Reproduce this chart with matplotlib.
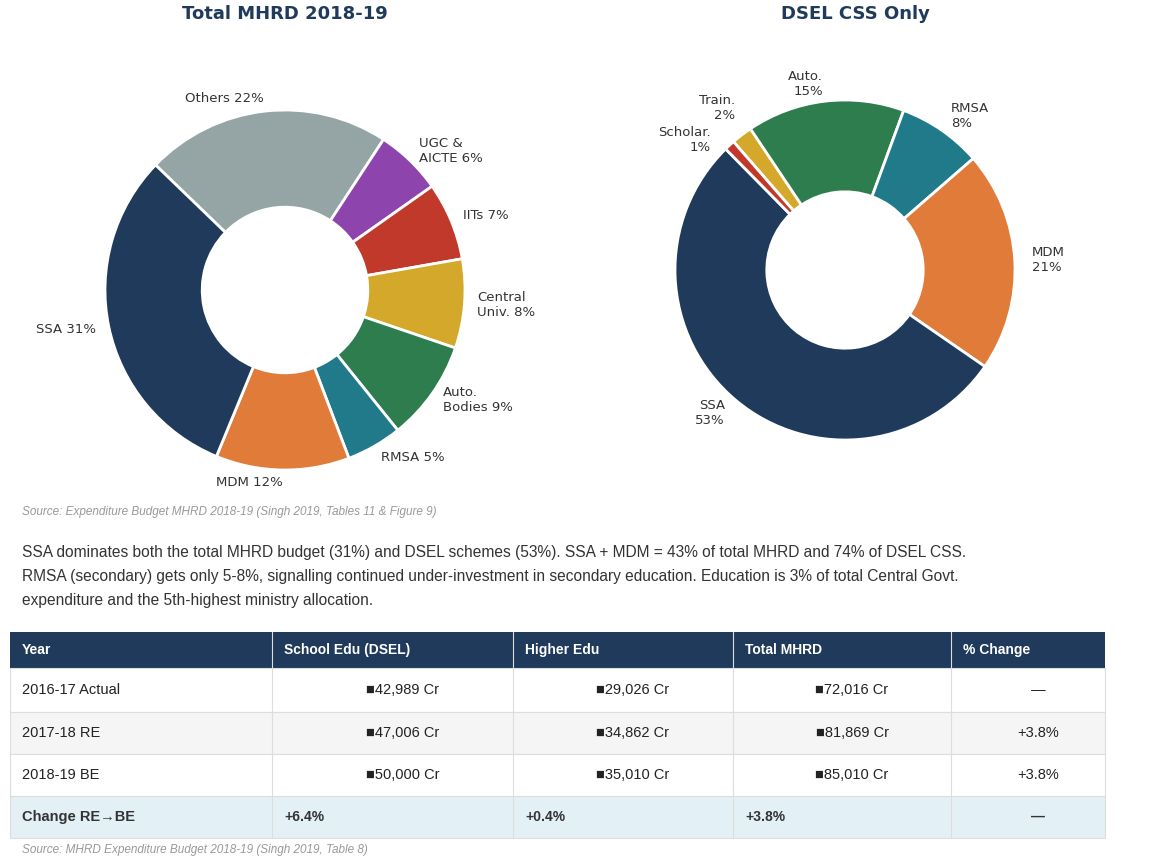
import matplotlib
matplotlib.use("Agg")
import matplotlib.pyplot as plt
from matplotlib.patches import Rectangle

W, H = 1153, 861
# ---- data ----
mhrd_labels = ["Others 22%", "UGC &\nAICTE 6%", "IITs 7%", "Central\nUniv. 8%", "Auto.\nBodies 9%",
               "RMSA 5%", "MDM 12%", "SSA 31%"]
mhrd_values = [22, 6, 7, 8, 9, 5, 12, 31]
mhrd_colors = ["#95a5a6", "#8e44ad", "#c0392b", "#d4a82a", "#2e7d4f", "#217a8a", "#e07b39", "#1f3a5a"]

dsel_labels = ["Train.\n2%", "Auto.\n15%", "RMSA\n8%", "MDM\n21%", "SSA\n53%", "Scholar.\n1%"]
dsel_values = [2, 15, 8, 21, 53, 1]
dsel_colors = ["#d4a82a", "#2e7d4f", "#217a8a", "#e07b39", "#1f3a5a", "#c0392b"]

col_headers = ["Year", "School Edu (DSEL)", "Higher Edu", "Total MHRD", "% Change"]
years = ["2016-17 Actual", "2017-18 RE", "2018-19 BE"]
school = ["■42,989 Cr", "■47,006 Cr", "■50,000 Cr"]
higher = ["■29,026 Cr", "■34,862 Cr", "■35,010 Cr"]
total = ["■72,016 Cr", "■81,869 Cr", "■85,010 Cr"]
pct = ["—", "+3.8%", "+3.8%"]
change_row = ["Change RE→BE", "+6.4%", "+0.4%", "+3.8%", "—"]

fig = plt.figure(figsize=(W/100, H/100), dpi=100)

def donut(rect, vals, labels, colors, start, ldist):
    ax = fig.add_axes(rect)
    wedges, texts = ax.pie(vals, labels=labels, colors=colors, startangle=start, counterclock=False,
                           labeldistance=ldist, wedgeprops=dict(width=0.54, edgecolor="white", linewidth=2),
                           textprops=dict(fontsize=9.5, color="#333333", family="DejaVu Sans"))
    for t in texts:
        t.set_clip_on(False)
    ax.set_xlim(-1, 1); ax.set_ylim(-1, 1); ax.set_aspect("equal")
    ax.axis("off")
    return ax, texts

donut([105/W, (H-470)/H, 360/W, 360/H], mhrd_values, mhrd_labels, mhrd_colors, 136, 1.07)
axr, rt = donut([675/W, (H-440)/H, 340/W, 340/H], dsel_values, dsel_labels, dsel_colors, 131, 1.1)
# nudge the two tiny slice labels apart
x, y = rt[0].get_position(); rt[0].set_position((x + 0.02, y + 0.08))
x, y = rt[5].get_position(); rt[5].set_position((x - 0.04, y - 0.04))

fig.text(285/W, 1-14/H, "Total MHRD 2018-19", ha="center", va="center", fontsize=13, fontweight="bold", color="#1f3a5a")
fig.text(855/W, 1-14/H, "DSEL CSS Only", ha="center", va="center", fontsize=13, fontweight="bold", color="#1f3a5a")

# text / table layer in pixel coords
ax = fig.add_axes([0, 0, 1, 1], zorder=-1)
ax.set_xlim(0, W); ax.set_ylim(H, 0); ax.axis("off")
ff = "Liberation Sans"
ax.text(22, 512, "Source: Expenditure Budget MHRD 2018-19 (Singh 2019, Tables 11 & Figure 9)", fontsize=8.5,
        style="italic", color="#999999", va="center", family=ff)
para = ["SSA dominates both the total MHRD budget (31%) and DSEL schemes (53%). SSA + MDM = 43% of total MHRD and 74% of DSEL CSS.",
        "RMSA (secondary) gets only 5-8%, signalling continued under-investment in secondary education. Education is 3% of total Central Govt.",
        "expenditure and the 5th-highest ministry allocation."]
for i, p in enumerate(para):
    ax.text(22, 553 + i*23.5, p, fontsize=11.2, color="#333333", va="center", family=ff)

xs = [10, 272, 513, 733, 951, 1105]
ax.add_patch(Rectangle((10, 632), 1095, 36, facecolor="#1f3a5a", edgecolor="none"))
for j, h in enumerate(col_headers):
    ax.text(xs[j]+12, 650, h, color="white", fontsize=10, fontweight="bold", va="center", family=ff)
row_y = [668, 712, 754, 796, 838]
bgs = ["white", "#f5f5f5", "white", "#e3f1f6"]
for r in range(4):
    ax.add_patch(Rectangle((10, row_y[r]), 1095, row_y[r+1]-row_y[r], facecolor=bgs[r], edgecolor="#dddddd", lw=0.8))
for x in xs[1:-1]:
    ax.plot([x, x], [632, 838], color="#dddddd", lw=0.8)
for r in range(3):
    yc = (row_y[r]+row_y[r+1])/2
    ax.text(xs[0]+12, yc, years[r], fontsize=10.5, va="center", color="#222222", family=ff)
    for j, v in zip([1, 2, 3], [school[r], higher[r], total[r]]):
        ax.text((xs[j]+xs[j+1])/2 + 10, yc, v, fontsize=10.5, va="center", ha="center", color="#222222",
                family=[ff, "DejaVu Sans"])
    ax.text((xs[4]+xs[5])/2 + 10, yc, pct[r], fontsize=10.5, va="center", ha="center", color="#222222", family=ff)
yc = (row_y[3]+row_y[4])/2
for j, v in enumerate(change_row):
    if j == 4:
        ax.text((xs[4]+xs[5])/2 + 10, yc, v, fontsize=10, va="center", ha="center", color="#333333", family=ff, fontweight="bold")
    else:
        ax.text(xs[j]+12, yc, v, fontsize=10.5 if j == 0 else 10, va="center", color="#333333",
                family=[ff, "DejaVu Sans"], fontweight="bold")
ax.text(22, 850, "Source: MHRD Expenditure Budget 2018-19 (Singh 2019, Table 8)", fontsize=8.5,
        style="italic", color="#999999", va="center", family=ff)

fig.savefig("out.png", dpi=100, facecolor="white")
